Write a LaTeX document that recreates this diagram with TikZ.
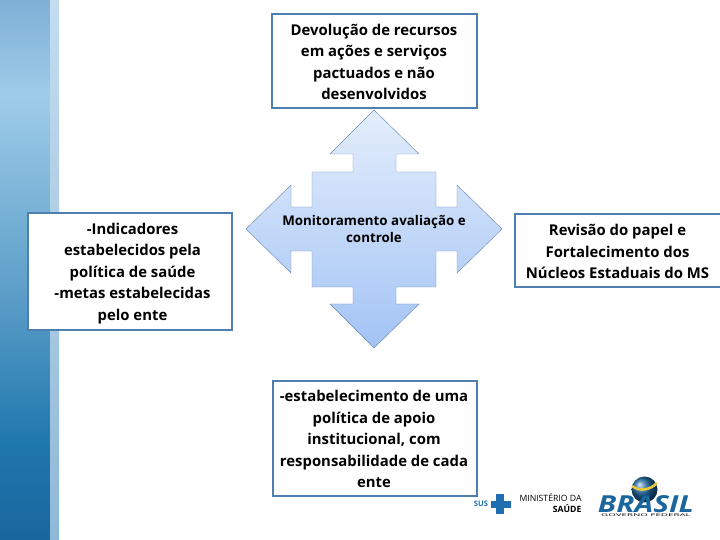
\documentclass[tikz,border=0pt]{standalone}
\usepackage{fontspec}
\setmainfont{Open Sans}
\usepackage{xcolor}
\definecolor{boxblue}{HTML}{4F7FAE}
\definecolor{arrowedge}{HTML}{6F8FB5}
\definecolor{arrowtop}{HTML}{E4EEFC}
\definecolor{arrowbottom}{HTML}{A3C3F5}
\definecolor{striptop}{HTML}{C5DCEF}
\definecolor{stripbottom}{HTML}{8FB8D8}
\definecolor{susblue}{HTML}{1F6FB0}
\definecolor{brasilblue}{HTML}{1C669E}
\definecolor{bandyellow}{HTML}{E8C83C}
\pgfdeclareverticalshading{sidebar}{100bp}{rgb(0bp)=(0.10,0.40,0.62); rgb(25bp)=(0.10,0.40,0.62); rgb(34bp)=(0.12,0.47,0.68); rgb(47bp)=(0.35,0.61,0.78); rgb(66bp)=(0.62,0.80,0.91); rgb(75bp)=(0.50,0.69,0.84); rgb(100bp)=(0.50,0.69,0.84)}
\tikzset{
  boxline/.style={draw=boxblue, line width=2.4pt, fill=white},
  boxtext/.style={align=center, font=\fontsize{12.7}{18.4}\selectfont\bfseries, inner sep=0pt},
}
\begin{document}
\begin{tikzpicture}[x=0.03cm,y=-0.03cm]
\useasboundingbox (0,0) rectangle (720,540);
\shade[shading=sidebar] (0,0) rectangle (50,540);
\shade[top color=striptop, bottom color=stripbottom] (50,0) rectangle (59,540);
\shade[top color=arrowtop, bottom color=arrowbottom, draw=arrowedge, thin]
  (374,110) -- (419,154) -- (396,154) -- (396,172) -- (436,172) -- (436,207) -- (457,207) -- (457,185)
  -- (502,229) -- (457,273) -- (457,251) -- (436,251) -- (436,287) -- (396,287) -- (396,304) -- (419,304)
  -- (374,348) -- (330,304) -- (353,304) -- (353,287) -- (312,287) -- (312,251) -- (291,251) -- (291,273)
  -- (246,229) -- (291,185) -- (291,207) -- (312,207) -- (312,172) -- (353,172) -- (353,154) -- (330,154) -- cycle;
\node[align=center, font=\fontsize{11.4}{15}\selectfont\bfseries] (monitor) at (374,229) {Monitoramento avaliação e\\controle};
\draw[boxline] (272,14) rectangle (477,108);
\node[boxtext] (devolucao) at (374,62) {Devolução de recursos\\em ações e serviços\\pactuados e não\\desenvolvidos};
\draw[boxline] (28,213) rectangle (232,330);
\node[boxtext] (indicadores) at (132.5,273.5) {-Indicadores\\estabelecidos pela\\política de saúde\\-metas estabelecidas\\pelo ente};
\draw[boxline] (515,214) rectangle (725,287);
\node[boxtext] (revisao) at (617.5,251.5) {Revisão do papel e\\Fortalecimento dos\\Núcleos Estaduais do MS};
\draw[boxline] (273,381) rectangle (477,496);
\node[boxtext] (politica) at (374,439) {-estabelecimento de uma\\política de apoio\\institucional, com\\responsabilidade de cada\\ente};
% logos
\node[text=susblue, font=\fontsize{6.5}{6.5}\selectfont\bfseries, inner sep=0pt] (sus) at (481,504) {SUS};
\fill[susblue] (496,494) rectangle (504,514);
\fill[susblue] (491,501) rectangle (511,508);
\node[align=right, font=\fontsize{7.4}{9}\selectfont, inner sep=0pt] (ministerio) at (550.5,503) {MINISTÉRIO DA\\\textbf{SAÚDE}};
\shade[ball color=brasilblue] (644.5,489.5) circle (13);
\draw[bandyellow, line width=2.2pt] (632,486) .. controls (640,492) and (650,490) .. (657,483);
\node[text=brasilblue, font=\fontsize{20}{20}\selectfont\bfseries\itshape, inner sep=0pt, xscale=1.27, transform shape] (brasil) at (646,504) {BRASIL};
\node[font=\fontsize{3.2}{3.2}\selectfont, inner sep=0pt, xscale=2.6, transform shape] (governo) at (646,515.5) {GOVERNO FEDERAL};
\end{tikzpicture}
\end{document}
